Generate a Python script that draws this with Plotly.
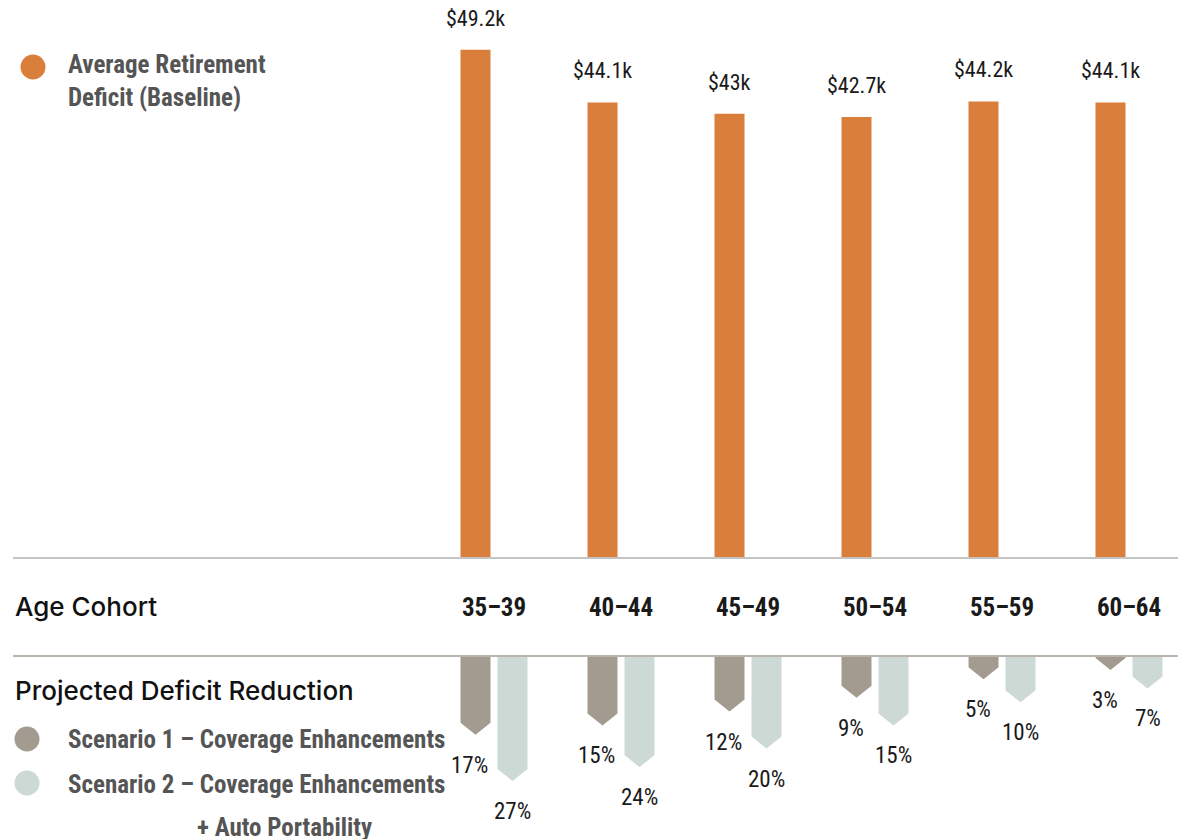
import plotly.graph_objects as go

# Data
cohorts = ["35–39", "40–44", "45–49", "50–54", "55–59", "60–64"]
baseline_deficit = [49.2, 44.1, 43.0, 42.7, 44.2, 44.1]   # $k
baseline_labels = ["$49.2k", "$44.1k", "$43k", "$42.7k", "$44.2k", "$44.1k"]
scenario1_pct = [17, 15, 12, 9, 5, 3]
scenario2_pct = [27, 24, 20, 15, 10, 7]

colors = {
    'orange': '#D97F3B',
    's1': '#A39B90',
    's2': '#CCD9D5',
    'line_top': '#C4C4C4',
    'line_bottom': '#BAB4AC',
    'legend_text': '#555555',
    'text': '#1A1A1A',
}

# page body has an 8px margin, so the figure sits at (8, 8)
PAGE_OFF = 8
W, H = 1186 - PAGE_OFF, 839 - PAGE_OFF


def fx(px):
    return (px - PAGE_OFF) / W


def fy(py):
    return 1 - (py - PAGE_OFF) / H


PX_PER_CAT = 127.0
FIRST_CENTER_PX = 494.0 - PAGE_OFF
x_lo = -FIRST_CENTER_PX / PX_PER_CAT
x_hi = x_lo + W / PX_PER_CAT

base_top_px = 558      # baseline of orange bars (page px)
base_bot_px = 656      # baseline of reduction arrows (page px)
top_scale = 10.33      # px per $k
bot_scale = 4.63       # px per %

off = 18.5 / PX_PER_CAT
bw = 30 / PX_PER_CAT
tip = 12 / bot_scale

pos = list(range(len(cohorts)))

fig = go.Figure()

# Baseline deficit bars
fig.add_trace(go.Bar(
    x=[p - off for p in pos],
    y=baseline_deficit,
    width=bw,
    marker=dict(color=colors['orange'], line=dict(width=0)),
    name='Average Retirement Deficit (Baseline)',
    showlegend=False,
))


def arrow_polys(values, shift):
    # downward pointing bars: rectangle body + pointed tip at the value
    xs, ys = [], []
    for p, v in zip(pos, values):
        cx = p + shift
        body = max(v - tip, 0)
        xs += [cx - bw / 2, cx + bw / 2, cx + bw / 2, cx, cx - bw / 2, cx - bw / 2, None]
        ys += [0, 0, body, v, body, 0, None]
    return xs, ys


for vals, shift, col, nm in [
    (scenario1_pct, -off, colors['s1'], 'Scenario 1 – Coverage Enhancements'),
    (scenario2_pct, off, colors['s2'], 'Scenario 2 – Coverage Enhancements + Auto Portability'),
]:
    xs, ys = arrow_polys(vals, shift)
    fig.add_trace(go.Scatter(
        x=xs, y=ys, yaxis='y2', mode='lines', fill='toself',
        fillcolor=col, line=dict(width=0, color=col),
        name=nm, showlegend=False, hoverinfo='skip',
    ))

narrow = "Roboto Condensed, DejaVu Sans Condensed, Roboto, sans-serif"
geo = "Inter, Lato, sans-serif"

annotations = []

# value labels above orange bars
for p, v, lab in zip(pos, baseline_deficit, baseline_labels):
    annotations.append(dict(
        x=p - off, y=v, xref='x', yref='y', text=lab, showarrow=False,
        yanchor='bottom', yshift=17, font=dict(family=narrow, size=22, color=colors['text']),
    ))

# percentage labels below arrows
for vals, shift, xs in [(scenario1_pct, -off, -6), (scenario2_pct, off, 0)]:
    for p, v in zip(pos, vals):
        annotations.append(dict(
            x=p + shift, y=v, xref='x', yref='y2', text=f"{v}%", showarrow=False,
            yanchor='top', yshift=-15, xshift=xs,
            font=dict(family=narrow, size=23, color=colors['text']),
        ))

# headings
annotations.append(dict(
    x=fx(13), y=fy(606), xref='paper', yref='paper', text="Age Cohort",
    showarrow=False, xanchor='left', yanchor='middle',
    font=dict(family=geo, size=26, color='#111111', weight=500),
))
annotations.append(dict(
    x=fx(13), y=fy(690), xref='paper', yref='paper', text="Projected Deficit Reduction",
    showarrow=False, xanchor='left', yanchor='middle',
    font=dict(family=geo, size=26, color='#111111', weight=500),
))

# legends
legend_font = dict(family=narrow, size=25, color=colors['legend_text'], weight='bold')
annotations.append(dict(
    x=fx(66), y=fy(81), xref='paper', yref='paper',
    text="Average Retirement<br>Deficit (Baseline)", align='left',
    showarrow=False, xanchor='left', yanchor='middle', font=legend_font,
))
annotations.append(dict(
    x=fx(66), y=fy(739), xref='paper', yref='paper',
    text="Scenario 1 – Coverage Enhancements",
    showarrow=False, xanchor='left', yanchor='middle', font=legend_font,
))
annotations.append(dict(
    x=fx(66), y=fy(784), xref='paper', yref='paper',
    text="Scenario 2 – Coverage Enhancements",
    showarrow=False, xanchor='left', yanchor='middle', font=legend_font,
))
annotations.append(dict(
    x=fx(195), y=fy(827), xref='paper', yref='paper',
    text="+ Auto Portability",
    showarrow=False, xanchor='left', yanchor='middle', font=legend_font,
))

shapes = [
    dict(type='line', xref='paper', yref='paper', x0=fx(13), x1=1,
         y0=fy(base_top_px), y1=fy(base_top_px),
         line=dict(color=colors['line_top'], width=2)),
    dict(type='line', xref='paper', yref='paper', x0=fx(13), x1=1,
         y0=fy(base_bot_px), y1=fy(base_bot_px),
         line=dict(color=colors['line_bottom'], width=2)),
]
for cx, cy, col in [(33, 67, colors['orange']), (27, 739, colors['s1']), (27, 783, colors['s2'])]:
    shapes.append(dict(
        type='circle', xref='paper', yref='paper', xsizemode='pixel', ysizemode='pixel',
        xanchor=fx(cx), yanchor=fy(cy), x0=-12.5, x1=12.5, y0=-12.5, y1=12.5,
        fillcolor=col, line=dict(width=0),
    ))

fig.update_layout(
    width=W, height=H,
    margin=dict(l=0, r=0, t=0, b=0),
    paper_bgcolor='white', plot_bgcolor='white',
    showlegend=False,
    xaxis=dict(
        range=[x_lo, x_hi], showgrid=False, zeroline=False, showline=False,
        tickmode='array', tickvals=pos, ticktext=cohorts, ticks='',
        ticklabelstandoff=32,
        tickfont=dict(family=narrow, size=25, color=colors['text'], weight='bold'),
        fixedrange=True,
    ),
    yaxis=dict(
        domain=[fy(base_top_px), 1], range=[0, (base_top_px - PAGE_OFF) / top_scale],
        visible=False, fixedrange=True,
    ),
    yaxis2=dict(
        domain=[0, fy(base_bot_px)], range=[(839 - base_bot_px) / bot_scale, 0],
        anchor='x', visible=False, fixedrange=True,
    ),
    annotations=annotations,
    shapes=shapes,
)

fig.write_html("out.html")
